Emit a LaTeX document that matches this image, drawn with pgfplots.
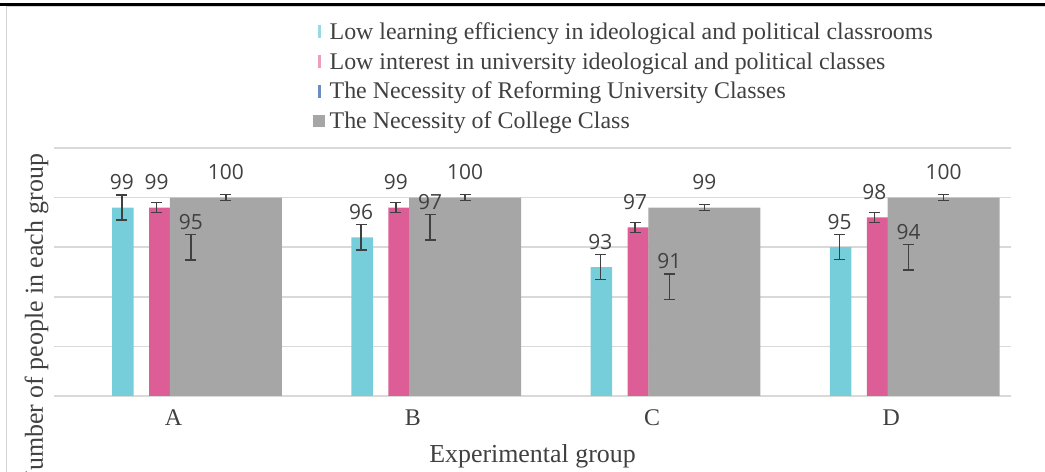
\documentclass[border=0pt]{standalone}
\usepackage{pgfplots}
\pgfplotsset{compat=1.18}
\usepackage{fontspec}
\setmainfont{Liberation Serif}
\newfontfamily\lblfont{Open Sans}
\definecolor{cy}{HTML}{75CEDA}
\definecolor{mg}{HTML}{DD5E96}
\definecolor{bl}{HTML}{6B8CBF}
\definecolor{gr}{HTML}{A6A6A6}
\definecolor{txt}{HTML}{404040}
\definecolor{gridc}{HTML}{D9D9D9}
\definecolor{framec}{HTML}{D4D4D4}
\pgfplotsset{
  errplot/.style={only marks, mark=none, color=txt, forget plot,
    nodes near coords,
    every node near coord/.append style={font=\lblfont\fontsize{21}{21}\selectfont, text=txt, anchor=south, inner sep=0pt, yshift=17.5bp},
    error bars/.cd, y dir=both, y explicit,
    error bar style={line width=1.4bp, color=txt},
    error mark options={rotate=90, mark size=5.5bp, line width=1.4bp, color=txt}},
}
\begin{document}
\begin{tikzpicture}
\path[use as bounding box] (0,0) rectangle (1045bp,472bp);
\clip (0,0) rectangle (1045bp,472bp);
\draw[line width=1.3bp, color=framec] (6.5bp,-5bp) -- (6.5bp,465.5bp) -- (1050bp,465.5bp);
\draw[line width=2.7bp, black] (-1bp,467.3bp) -- (1046bp,467.3bp);
\begin{axis}[
  at={(54bp,76bp)}, anchor=south west,
  scale only axis, width=957bp, height=248bp,
  xmin=-0.5, xmax=3.5, ymin=80, ymax=105,
  xtick={0,1,2,3}, xticklabels={A,B,C,D},
  ytick={80,85,...,105}, yticklabels={},
  ymajorgrids, grid style={draw=gridc, line width=1.5bp},
  major tick length=0pt,
  axis line style={draw=none},
  xticklabel style={font=\fontsize{24}{24}\selectfont, text=txt, anchor=base, yshift=-29bp},
  xlabel={Experimental group},
  xlabel style={at={(axis description cs:0.5,0)}, anchor=base, yshift=-66bp, font=\fontsize{26}{26}\selectfont, text=txt},
  ylabel={Number of people in each group},
  ylabel style={at={(axis description cs:-0.0115,0.2996)}, anchor=base, font=\fontsize{26}{26}\selectfont, text=txt},
  /pgf/number format/assume math mode=true,
  legend style={at={(axis description cs:0.2706,1.507)}, anchor=north west, draw=none, fill=none, inner sep=0pt,
    font=\fontsize{24}{24}\selectfont, text=txt, row sep=6.7bp,
    nodes={inner sep=0pt, text height=17bp, text depth=6bp},
    /tikz/every odd column/.append style={column sep=4.5bp}},
  legend cell align=left,
]
\addplot[ybar, bar width=0.0899, bar shift=0pt, fill=cy, draw=none,
  legend image code/.code={\path[draw=none, fill=none] (0bp,-6bp) rectangle (12bp,10bp); \fill[cy!75!white] (4.5bp,-4.5bp) rectangle (7.5bp,8.5bp);}]
  coordinates {(-0.212,99) (0.788,96) (1.788,93) (2.788,95)};
\addlegendentry{Low learning efficiency in ideological and political classrooms}
\addplot[ybar, bar width=0.0878, bar shift=0pt, fill=mg, draw=none,
  legend image code/.code={\path[draw=none, fill=none] (0bp,-6bp) rectangle (12bp,10bp); \fill[mg!60!white] (4.5bp,-4.5bp) rectangle (7.5bp,8.5bp);}]
  coordinates {(-0.0585,99) (0.9415,99) (1.9415,97) (2.9415,98)};
\addlegendentry{Low interest in university ideological and political classes}
\addplot[ybar, bar width=0.0899, bar shift=0pt, fill=bl, draw=none,
  legend image code/.code={\path[draw=none, fill=none] (0bp,-6bp) rectangle (12bp,10bp); \fill[bl] (4.5bp,-4.5bp) rectangle (7.5bp,8.5bp);}]
  coordinates {(0.0723,95) (1.0723,97) (2.0723,91) (3.0723,94)};
\addlegendentry{The Necessity of Reforming University Classes}
\addplot[ybar, bar width=0.468, bar shift=0pt, fill=gr, draw=none,
  legend image code/.code={\path[draw=none, fill=none] (0bp,-6bp) rectangle (12bp,10bp); \fill[gr] (0bp,-4bp) rectangle (12bp,8bp);}]
  coordinates {(0.2188,100) (1.2188,100) (2.2188,99) (3.2188,100)};
\addlegendentry{The Necessity of College Class}
% error bars and value labels, drawn on top of all bars
\addplot[errplot] coordinates {(-0.216,99) +- (0,1.27) (0.784,96) +- (0,1.27) (1.784,93) +- (0,1.27) (2.784,95) +- (0,1.27)};
\addplot[errplot] coordinates {(-0.071,99) +- (0,0.5) (0.929,99) +- (0,0.5) (1.929,97) +- (0,0.5) (2.929,98) +- (0,0.5)};
\addplot[errplot] coordinates {(0.0723,95) +- (0,1.28) (1.0723,97) +- (0,1.28) (2.0723,91) +- (0,1.28) (3.0723,94) +- (0,1.28)};
\addplot[errplot] coordinates {(0.2186,100) +- (0,0.3) (1.2186,100) +- (0,0.3) (2.2186,99) +- (0,0.3) (3.2186,100) +- (0,0.3)};
\end{axis}
\end{tikzpicture}
\end{document}
